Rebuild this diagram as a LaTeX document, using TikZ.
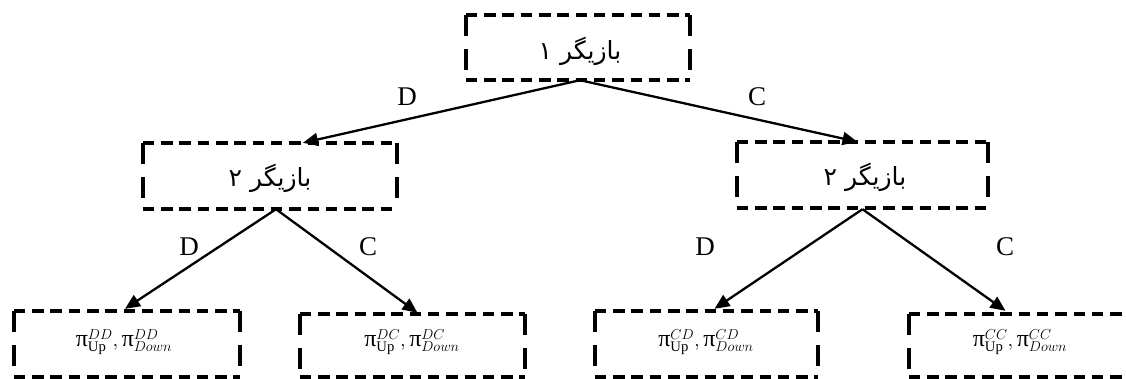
\documentclass[tikz,border=0pt]{standalone}
\usepackage{fontspec}
\setmainfont{Liberation Serif}
\newfontfamily\arabicfont[Script=Arabic]{DejaVu Sans}
\newfontfamily\grk{Liberation Serif}
\usetikzlibrary{arrows.meta,calc}
\TeXXeTstate=1

% payoff pair pi^{xy}_{Up}, pi^{xy}_{Down}
\newcommand{\bigpi}{\hbox{\grk\fontsize{24}{28}\selectfont π}}
\newcommand{\payoff}[1]{$\bigpi^{#1}_{\mathrm{Up}},\bigpi^{#1}_{Down}$}
\newcommand{\player}[1]{{\arabicfont\beginR بازیگر #1\endR}}

\tikzset{
  box/.style={draw=none, inner sep=0pt, minimum width=#1},
  box/.default=224pt,
  hedge/.style={line width=4pt, dash pattern=on 11.5pt off 6.8pt},
  vedge/.style={line width=4pt, dash pattern=on 21pt off 13pt},
  move/.style={line width=2.3pt, -{Triangle[length=15pt,width=13pt]}},
  lab/.style={font=\fontsize{27}{30}\selectfont},
  ptext/.style={font=\fontsize{25}{30}\selectfont},
  mtext/.style={font=\fontsize{21}{25}\selectfont},
}

\begin{document}
\begin{tikzpicture}[x=1pt, y=-1pt]
\useasboundingbox (0,0) rectangle (1126,379);

% decision nodes
\node[box=224pt, minimum height=65pt] (top) at (578,47.5) {};
\node[box=254pt, minimum height=66pt] (l2l) at (270,176) {};
\node[box=251pt, minimum height=66pt] (l2r) at (862.5,175) {};
\node[ptext] (topt) at (580,51) {\player{۱}};
\node[ptext] (l2lt) at (270,178) {\player{۲}};
\node[ptext] (l2rt) at (865,177) {\player{۲}};

% outcomes
\node[box=226pt, minimum height=66pt] (dd) at (127,344) {};
\node[box=225pt, minimum height=63pt] (dc) at (412.5,345.5) {};
\node[box=223pt, minimum height=66pt] (cd) at (706.5,344) {};
\node[box=219pt, minimum height=63pt] (cc) at (1018.5,345.5) {};
\node[mtext] (ddt) at (124,342) {\payoff{DD}};
\node[mtext] (dct) at (412,342) {\payoff{DC}};
\node[mtext] (cdt) at (706,342) {\payoff{CD}};
\node[mtext] (cct) at (1020,342) {\payoff{CC}};

% dashed frames
\foreach \n in {top,l2l,l2r,dd,dc,cd,cc}{
  \draw[hedge] (\n.north west) -- (\n.north east);
  \draw[hedge] (\n.south west) -- (\n.south east);
  \draw[vedge] (\n.north west) -- (\n.south west);
  \draw[vedge] (\n.north east) -- (\n.south east);
}

% moves
\draw[move] ($(top.south)+(2,0)$) -- ($(l2l.north)+(33,0)$);
\draw[move] ($(top.south)+(2,0)$) -- ($(l2r.north)+(-5,0)$);
\draw[move] ($(l2l.south)+(6,0)$) -- ($(dd.north)+(-2,-2)$);
\draw[move] ($(l2l.south)+(6,0)$) -- ($(dc.north)+(5,-1)$);
\draw[move] ($(l2r.south)+(0,1)$) -- ($(cd.north)+(8,-2)$);
\draw[move] ($(l2r.south)+(0,1)$) -- ($(cc.north)+(-13,-3)$);

% move labels
\node[lab] (tD) at (407,97) {D};
\node[lab] (tC) at (757,97) {C};
\node[lab] (lD) at (189,247) {D};
\node[lab] (lC) at (368,247) {C};
\node[lab] (rD) at (705,247) {D};
\node[lab] (rC) at (1005,247) {C};
\end{tikzpicture}
\end{document}
